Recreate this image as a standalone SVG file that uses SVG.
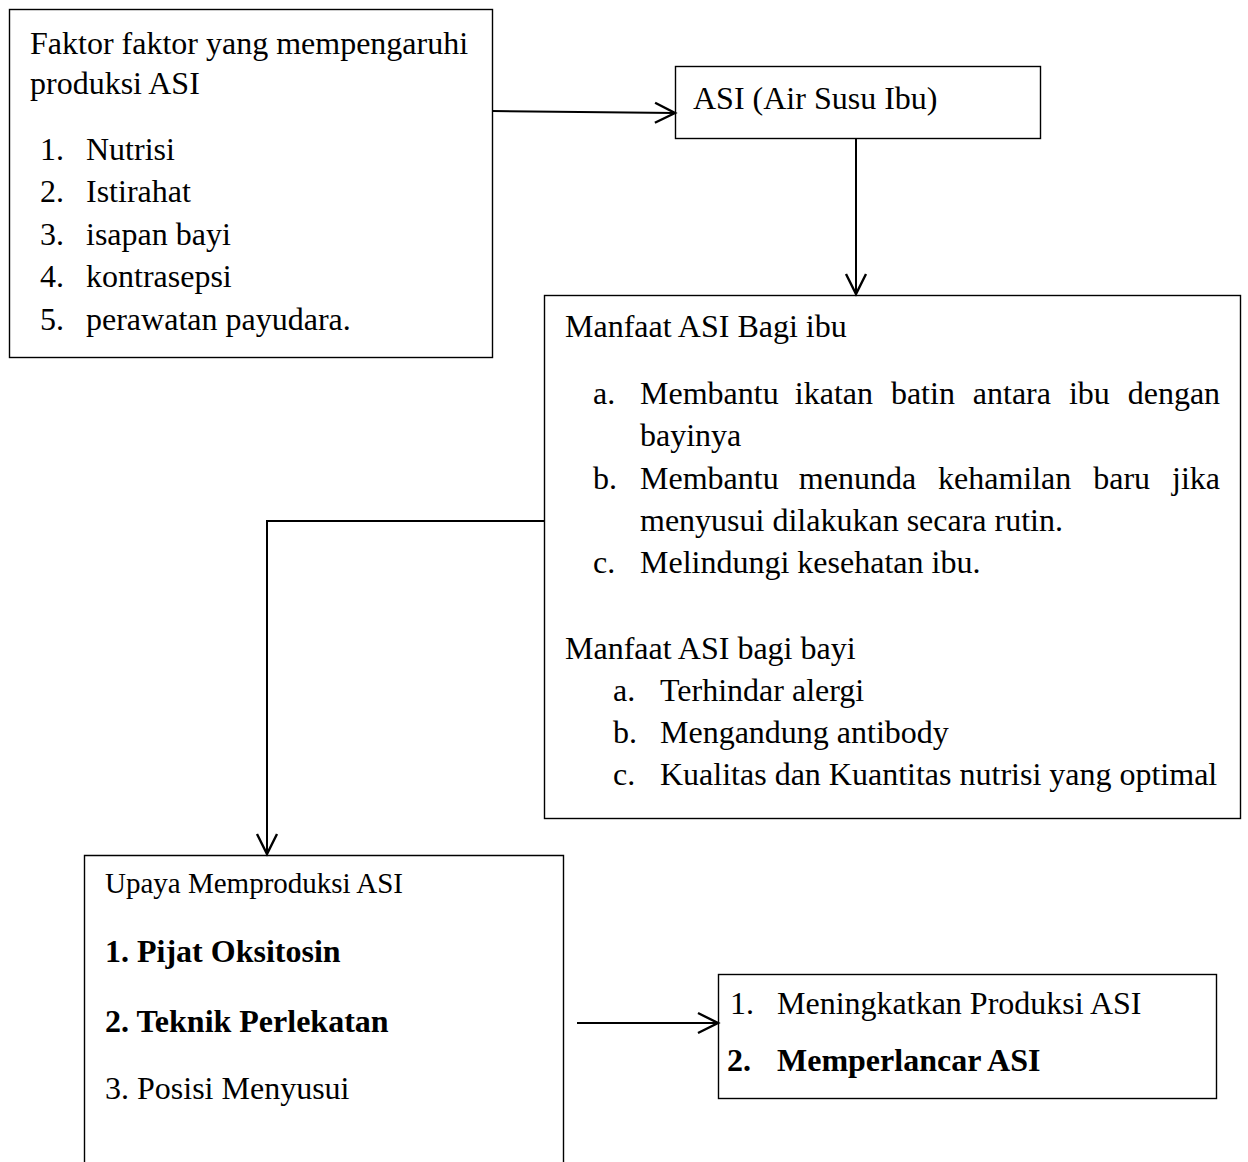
<svg xmlns="http://www.w3.org/2000/svg" width="1248" height="1162" viewBox="0 0 1248 1162">
<style>
text{font-family:"Liberation Serif","Times New Roman",serif;font-size:32px;fill:#000}
.b{font-weight:bold}
.small{font-size:29px}
.box{fill:#fff;stroke:#000;stroke-width:1.4}
.conn{fill:none;stroke:#000;stroke-width:2}
</style>
<defs>
<marker id="arr" markerUnits="userSpaceOnUse" markerWidth="26" markerHeight="26" viewBox="0 0 26 26" refX="23" refY="13" orient="auto">
<path d="M3,3 L23,13 L3,23" fill="none" stroke="#000" stroke-width="2.4"/>
</marker>
</defs>
<rect width="1248" height="1162" fill="#fff"/>
<g id="faktor">
<rect class="box" x="9.5" y="9.5" width="483" height="348"/>
<text x="30" y="54">Faktor faktor yang mempengaruhi</text>
<text x="30" y="94">produksi ASI</text>
<text x="40" y="160">1.</text><text x="86" y="160">Nutrisi</text>
<text x="40" y="202">2.</text><text x="86" y="202">Istirahat</text>
<text x="40" y="245">3.</text><text x="86" y="245">isapan bayi</text>
<text x="40" y="287">4.</text><text x="86" y="287">kontrasepsi</text>
<text x="40" y="330">5.</text><text x="86" y="330">perawatan payudara.</text>
</g>
<g id="asi">
<rect class="box" x="675.5" y="66.5" width="365" height="72"/>
<text x="693" y="109">ASI (Air Susu Ibu)</text>
</g>
<g id="manfaat">
<rect class="box" x="544.5" y="295.5" width="696" height="523"/>
<text x="565" y="337">Manfaat ASI Bagi ibu</text>
<text x="593" y="404">a.</text>
<text y="404"><tspan x="640">Membantu</tspan><tspan x="794.8">ikatan</tspan><tspan x="890.9">batin</tspan><tspan x="972.8">antara</tspan><tspan x="1068.9">ibu</tspan><tspan x="1127.7">dengan</tspan></text>
<text x="640" y="446">bayinya</text>
<text x="593" y="489">b.</text>
<text y="489"><tspan x="640">Membantu</tspan><tspan x="798.8">menunda</tspan><tspan x="938">kehamilan</tspan><tspan x="1093.2">baru</tspan><tspan x="1172">jika</tspan></text>
<text x="640" y="531">menyusui dilakukan secara rutin.</text>
<text x="593" y="573">c.</text><text x="640" y="573">Melindungi kesehatan ibu.</text>
<text x="565" y="659">Manfaat ASI bagi bayi</text>
<text x="613" y="701">a.</text><text x="660" y="701">Terhindar alergi</text>
<text x="613" y="743">b.</text><text x="660" y="743">Mengandung antibody</text>
<text x="613" y="785">c.</text><text x="660" y="785">Kualitas dan Kuantitas nutrisi yang optimal</text>
</g>
<g id="upaya">
<path class="box" d="M84.5,1162 V855.5 H563.5 V1162"/>
<text class="small" x="105" y="893">Upaya Memproduksi ASI</text>
<text class="b" x="105" y="962">1. Pijat Oksitosin</text>
<text class="b" x="105" y="1032">2. Teknik Perlekatan</text>
<text x="105" y="1099">3. Posisi Menyusui</text>
</g>
<g id="hasil">
<rect class="box" x="718.5" y="974.5" width="498" height="124"/>
<text x="730" y="1014">1.</text><text x="777" y="1014">Meningkatkan Produksi ASI</text>
<text class="b" x="727" y="1071">2.</text><text class="b" x="777" y="1071">Memperlancar ASI</text>
</g>
<g id="connectors">
<path class="conn" d="M492,111 L675,113" marker-end="url(#arr)"/>
<path class="conn" d="M856,138 V294" marker-end="url(#arr)"/>
<path class="conn" d="M544,521 H267 V854" marker-end="url(#arr)"/>
<path class="conn" d="M577,1023 H718" marker-end="url(#arr)"/>
</g>
</svg>
